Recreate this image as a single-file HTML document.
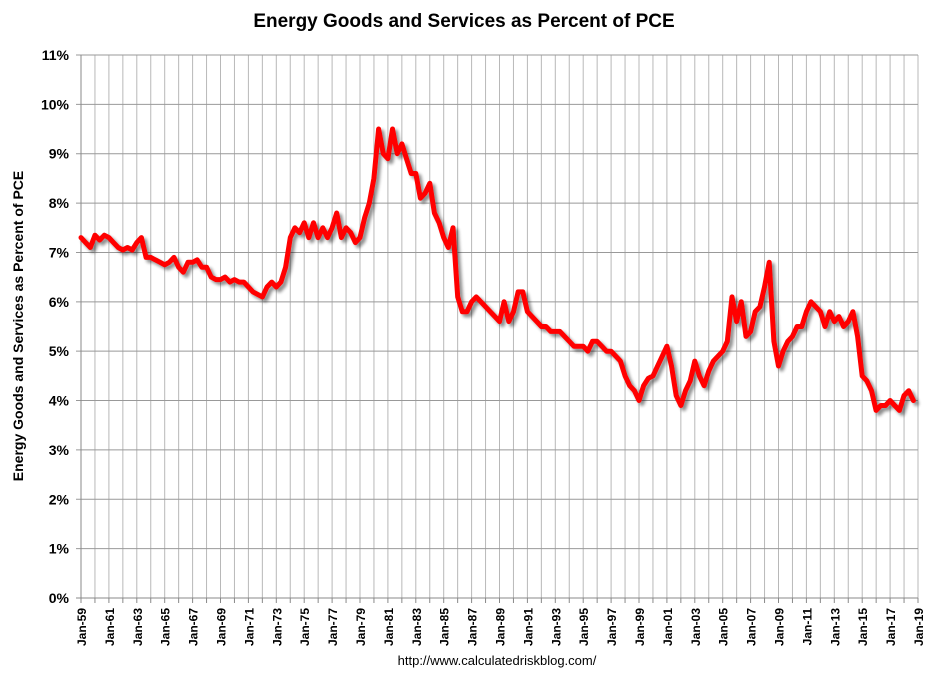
<!DOCTYPE html>
<html><head><meta charset="utf-8"><style>
body{margin:0;background:#fff;}
svg text{font-family:"Liberation Sans",sans-serif;}
</style></head><body>
<svg id="chart" width="928" height="678">
<defs><filter id="sh" x="-5%" y="-5%" width="110%" height="110%"><feGaussianBlur in="SourceAlpha" stdDeviation="1.5"/><feOffset dx="3" dy="3"/><feComponentTransfer><feFuncA type="linear" slope="0.45"/></feComponentTransfer><feMerge><feMergeNode/><feMergeNode in="SourceGraphic"/></feMerge></filter></defs>
<text x="464" y="27" text-anchor="middle" font-size="19" font-weight="bold">Energy Goods and Services as Percent of PCE</text>
<text transform="translate(23,326) rotate(-90)" text-anchor="middle" font-size="14" font-weight="bold">Energy Goods and Services as Percent of PCE</text>
<text x="497" y="665" text-anchor="middle" font-size="13">http://www.calculatedriskblog.com/</text>
<g id="grid"></g><g id="axes"></g><g id="series"></g>
</svg>
<script>
const yTicks=[0,1,2,3,4,5,6,7,8,9,10,11];
const startYear=1959, endYear=2019;
const vals=[
7.3,7.2,7.1, 7.35,7.25,7.35, 7.3,7.2,7.1, 7.05,7.1,7.05, 7.2,7.3,6.9,
6.9,6.85,6.8, 6.75,6.8,6.9, 6.7,6.6,6.8, 6.8,6.85,6.7, 6.7,6.5,6.45,
6.45,6.5,6.4, 6.45,6.4,6.4, 6.3,6.2,6.15, 6.1,6.3,6.4, 6.3,6.4,6.7,
7.3,7.5,7.4, 7.6,7.3,7.6, 7.3,7.5,7.3, 7.5,7.8,7.3, 7.5,7.4,7.2,
7.3,7.7,8.0, 8.5,9.5,9.0, 8.9,9.5,9.0, 9.2,8.9,8.6, 8.6,8.1,8.2,
8.4,7.8,7.6, 7.3,7.1,7.5, 6.1,5.8,5.8, 6.0,6.1,6.0, 5.9,5.8,5.7,
5.6,6.0,5.6, 5.8,6.2,6.2, 5.8,5.7,5.6, 5.5,5.5,5.4, 5.4,5.4,5.3,
5.2,5.1,5.1, 5.1,5.0,5.2, 5.2,5.1,5.0, 5.0,4.9,4.8, 4.5,4.3,4.2,
4.0,4.3,4.45, 4.5,4.7,4.9, 5.1,4.7,4.1, 3.9,4.2,4.4, 4.8,4.5,4.3,
4.6,4.8,4.9, 5.0,5.2,6.1, 5.6,6.0,5.3, 5.4,5.8,5.9, 6.3,6.8,5.2,
4.7,5.0,5.2, 5.3,5.5,5.5, 5.8,6.0,5.9, 5.8,5.5,5.8, 5.6,5.7,5.5,
5.6,5.8,5.3, 4.5,4.4,4.2, 3.8,3.9,3.9, 4.0,3.9,3.8, 4.1,4.2,4.0
];
const X0=81,X1=918,Y0=598,Y1=55;
const xs=t=>X0+(t-startYear)/(endYear-startYear)*(X1-X0);
const ys=v=>Y0-v/11*(Y0-Y1);
const NS="http://www.w3.org/2000/svg";
function mk(tag,at,parent){const e=document.createElementNS(NS,tag);for(const k in at)e.setAttribute(k,at[k]);parent.appendChild(e);return e;}
const grid=document.getElementById('grid'),axes=document.getElementById('axes'),ser=document.getElementById('series');
for(let y=startYear+1;y<=endYear;y++){
  const l=mk('line',{x1:xs(y),x2:xs(y),y1:Y1,y2:Y0,stroke:'#b8b8b8','stroke-width':1},grid);
  
  
}
yTicks.forEach(v=>{
  const l=mk('line',{x1:X0-5,x2:X1,y1:ys(v),y2:ys(v),stroke:v===0?'#888':'#999','stroke-width':1},grid);
  
  
  const t=mk('text',{x:X0-12,y:ys(v)+5,'text-anchor':'end','font-size':14,'font-weight':'bold'},axes);
  t.textContent=v+'%';
  
  
});
mk('line',{x1:X0,x2:X0,y1:Y1,y2:Y0,stroke:'#888'},axes);
for(let y=startYear;y<=endYear;y++){
  mk('line',{x1:xs(y),x2:xs(y),y1:Y0,y2:Y0+5,stroke:'#888'},axes);
  if((y-startYear)%2===0){
    const t=mk('text',{transform:`translate(${xs(y)+5},${Y0+10}) rotate(-90)`,'text-anchor':'end','font-size':12,'font-weight':'bold'},axes);
    t.textContent='Jan-'+String(y%100).padStart(2,'0');
    
    
  }
}
const pts=vals.map((v,i)=>xs(startYear+i/3).toFixed(1)+','+ys(v).toFixed(1)).join(' ');
const pl=mk('polyline',{points:pts,fill:'none',stroke:'#ff0000','stroke-width':5,'stroke-linejoin':'round','stroke-linecap':'round',filter:'url(#sh)'},ser);


</script>
</body></html>
